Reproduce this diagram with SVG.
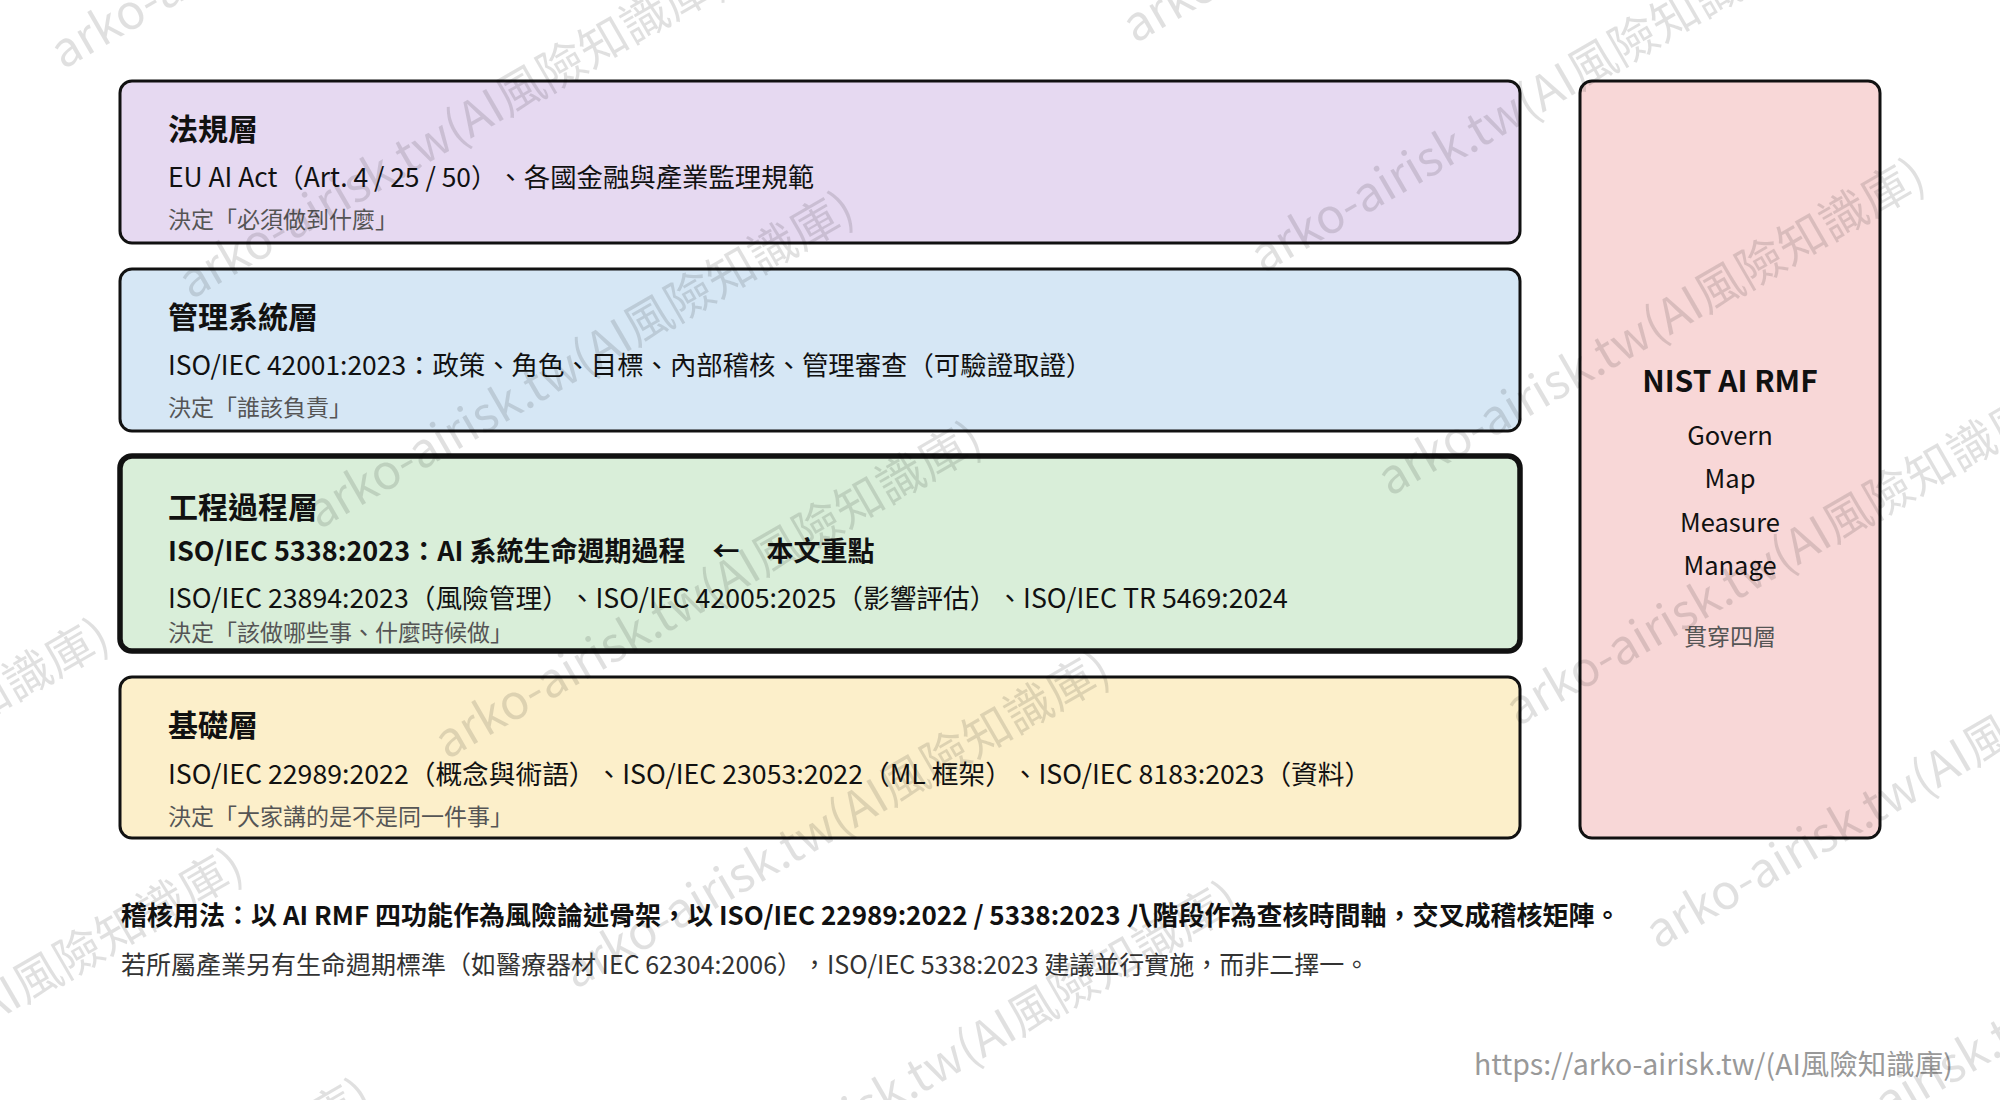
<svg xmlns="http://www.w3.org/2000/svg" width="2000" height="1100" viewBox="0 0 2000 1100">
<style>
text{font-family:"Noto Sans CJK TC","Noto Sans",sans-serif;fill:#111;text-spacing-trim:space-all}
.box{stroke:#111;stroke-width:3}
.title{font-size:30px;font-weight:700}
.main{font-size:26.4px}
.wide{font-size:26.7px}
.bold{font-weight:700;font-size:27px}
.sub{font-size:23px;fill:#555}
.rmf{font-size:25.5px;text-anchor:middle}
.wm{font-size:48px;fill:#000;fill-opacity:0.12}
</style>
<rect width="2000" height="1100" fill="#ffffff"/>
<g id="layer-regulation">
<rect class="box" x="120" y="81" width="1400" height="162" rx="12" fill="#e6d9f1"/>
<text class="title" x="168" y="140">法規層</text>
<text class="main" x="168" y="187">EU AI Act（Art. 4 / 25 / 50）、各國金融與產業監理規範</text>
<text class="sub" x="168" y="228">決定「必須做到什麼」</text>
</g>
<g id="layer-management">
<rect class="box" x="120" y="269" width="1400" height="162" rx="12" fill="#d6e7f5"/>
<text class="title" x="168" y="328">管理系統層</text>
<text class="main" x="168" y="375">ISO/IEC 42001:2023：政策、角色、目標、內部稽核、管理審查（可驗證取證）</text>
<text class="sub" x="168" y="416">決定「誰該負責」</text>
</g>
<g id="layer-engineering">
<rect class="box" x="120" y="456" width="1400" height="195" rx="12" fill="#d9eed9" style="stroke-width:5.5"/>
<text class="title" x="168" y="518">工程過程層</text>
<text class="main bold" x="168" y="561">ISO/IEC 5338:2023：AI 系統生命週期過程　←　本文重點</text>
<text class="main wide" x="168" y="608">ISO/IEC 23894:2023（風險管理）、ISO/IEC 42005:2025（影響評估）、ISO/IEC TR 5469:2024</text>
<text class="sub" x="168" y="641">決定「該做哪些事、什麼時候做」</text>
</g>
<g id="layer-foundation">
<rect class="box" x="120" y="677" width="1400" height="161" rx="12" fill="#fcefca"/>
<text class="title" x="168" y="736">基礎層</text>
<text class="main wide" x="168" y="784">ISO/IEC 22989:2022（概念與術語）、ISO/IEC 23053:2022（ML 框架）、ISO/IEC 8183:2023（資料）</text>
<text class="sub" x="168" y="825">決定「大家講的是不是同一件事」</text>
</g>
<g id="nist-ai-rmf">
<rect class="box" x="1580" y="81" width="300" height="757" rx="12" fill="#f8d7d7"/>
<text x="1730" y="392" style="font-size:30px;font-weight:700;text-anchor:middle">NIST AI RMF</text>
<text class="rmf" x="1730" y="445">Govern</text>
<text class="rmf" x="1730" y="488">Map</text>
<text class="rmf" x="1730" y="532">Measure</text>
<text class="rmf" x="1730" y="575">Manage</text>
<text class="sub" x="1730" y="645" style="text-anchor:middle">貫穿四層</text>
</g>
<g id="connectors"/>
<g id="notes">
<text x="121" y="925" style="font-size:26px;font-weight:700">稽核用法：以 AI RMF 四功能作為風險論述骨架，以 ISO/IEC 22989:2022 / 5338:2023 八階段作為查核時間軸，交叉成稽核矩陣。</text>
<text x="121" y="974" style="font-size:25px;fill:#333">若所屬產業另有生命週期標準（如醫療器材 IEC 62304:2006），ISO/IEC 5338:2023 建議並行實施，而非二擇一。</text>
<text x="1953" y="1075" style="font-size:28.5px;fill:#999;text-anchor:end">https://arko-airisk.tw/(AI風險知識庫)</text>
</g>
<g id="watermarks">
<text class="wm" transform="translate(-426,957) rotate(-30)">arko-airisk.tw(AI風險知識庫)</text>
<text class="wm" transform="translate(-292,1187) rotate(-30)">arko-airisk.tw(AI風險知識庫)</text>
<text class="wm" transform="translate(-164,1417) rotate(-30)">arko-airisk.tw(AI風險知識庫)</text>
<text class="wm" transform="translate(63,70) rotate(-30)">arko-airisk.tw(AI風險知識庫)</text>
<text class="wm" transform="translate(191,300) rotate(-30)">arko-airisk.tw(AI風險知識庫)</text>
<text class="wm" transform="translate(319,530) rotate(-30)">arko-airisk.tw(AI風險知識庫)</text>
<text class="wm" transform="translate(447,760) rotate(-30)">arko-airisk.tw(AI風險知識庫)</text>
<text class="wm" transform="translate(575,990) rotate(-30)">arko-airisk.tw(AI風險知識庫)</text>
<text class="wm" transform="translate(703,1220) rotate(-30)">arko-airisk.tw(AI風險知識庫)</text>
<text class="wm" transform="translate(831,1450) rotate(-30)">arko-airisk.tw(AI風險知識庫)</text>
<text class="wm" transform="translate(1135,44) rotate(-30)">arko-airisk.tw(AI風險知識庫)</text>
<text class="wm" transform="translate(1263,274) rotate(-30)">arko-airisk.tw(AI風險知識庫)</text>
<text class="wm" transform="translate(1390,497) rotate(-30)">arko-airisk.tw(AI風險知識庫)</text>
<text class="wm" transform="translate(1518,727) rotate(-30)">arko-airisk.tw(AI風險知識庫)</text>
<text class="wm" transform="translate(1658,950) rotate(-30)">arko-airisk.tw(AI風險知識庫)</text>
<text class="wm" transform="translate(1786,1180) rotate(-30)">arko-airisk.tw(AI風險知識庫)</text>
</g>
</svg>
